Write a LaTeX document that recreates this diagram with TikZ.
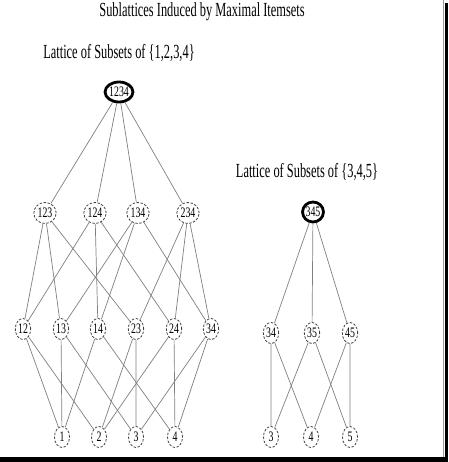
\documentclass[tikz,border=0pt]{standalone}
\usepackage{fontspec}
\newfontfamily\condserif[FakeStretch=0.62]{Liberation Serif}
\newfontfamily\nodeserif[FakeStretch=0.68]{Liberation Serif}
\usetikzlibrary{shapes.geometric}

\tikzset{
  itemset/.style={ellipse, draw=black!75, line width=0.8pt, dash pattern=on 2.4pt off 1.6pt,
    inner sep=0.5pt, minimum width=15pt, minimum height=21pt, font=\nodeserif\fontsize{14.5}{14.5}\selectfont},
  maxset/.style={ellipse, draw=black, line width=2.8pt,
    inner sep=0pt, minimum height=20pt, font=\nodeserif\fontsize{14.5}{14.5}\selectfont},
  heading/.style={font=\condserif\fontsize{20}{22}\selectfont},
  link/.style={draw=black!50, line width=0.7pt}
}

\begin{document}
\begin{tikzpicture}[x=1pt,y=-1pt]
\useasboundingbox (0,0) rectangle (448,462);
\fill[white] (0,0) rectangle (448,462);
\draw[black!40] (443.5,0) -- (443.5,457);
\fill[black] (445,3) rectangle (448,462);
\fill[black] (0,457) rectangle (448,462);

\node[heading] (title) at (202,12) {Sublattices Induced by Maximal Itemsets};
\node[heading] (lefttitle) at (119,53) {Lattice of Subsets of \{1,2,3,4\}};
\node[heading] (righttitle) at (307,172) {Lattice of Subsets of \{3,4,5\}};

% left lattice
\node[maxset] (n1234) at (119,92) {1234};

\node[itemset] (n123) at (45,213) {123};
\node[itemset] (n124) at (95,213) {124};
\node[itemset] (n134) at (138,213) {134};
\node[itemset] (n234) at (188,213) {234};

\node[itemset] (n12) at (23,329) {12};
\node[itemset] (n13) at (61,329) {13};
\node[itemset] (n14) at (98,329) {14};
\node[itemset] (n23) at (136,329) {23};
\node[itemset] (n24) at (174,329) {24};
\node[itemset] (n34) at (211,329) {34};

\node[itemset] (n1) at (62,437) {1};
\node[itemset] (n2) at (99,437) {2};
\node[itemset] (n3) at (136,437) {3};
\node[itemset] (n4) at (175,437) {4};

\draw[link] (n1234) -- (n123) (n1234) -- (n124) (n1234) -- (n134) (n1234) -- (n234);

\draw[link] (n123) -- (n12) (n123) -- (n13) (n123) -- (n23);
\draw[link] (n124) -- (n12) (n124) -- (n14) (n124) -- (n24);
\draw[link] (n134) -- (n13) (n134) -- (n14) (n134) -- (n34);
\draw[link] (n234) -- (n23) (n234) -- (n24) (n234) -- (n34);

\draw[link] (n12) -- (n1) (n12) -- (n2);
\draw[link] (n13) -- (n1) (n13) -- (n3);
\draw[link] (n14) -- (n1) (n14) -- (n4);
\draw[link] (n23) -- (n2) (n23) -- (n3);
\draw[link] (n24) -- (n2) (n24) -- (n4);
\draw[link] (n34) -- (n3) (n34) -- (n4);

% right lattice
\node[maxset] (r345) at (313,212) {345};

\node[itemset] (r34) at (271,333) {34};
\node[itemset] (r35) at (312,333) {35};
\node[itemset] (r45) at (350,333) {45};

\node[itemset] (r3) at (271,437) {3};
\node[itemset] (r4) at (311,437) {4};
\node[itemset] (r5) at (350,437) {5};

\draw[link] (r345) -- (r34) (r345) -- (r35) (r345) -- (r45);

\draw[link] (r34) -- (r3) (r34) -- (r4);
\draw[link] (r35) -- (r3) (r35) -- (r5);
\draw[link] (r45) -- (r4) (r45) -- (r5);
\end{tikzpicture}
\end{document}
